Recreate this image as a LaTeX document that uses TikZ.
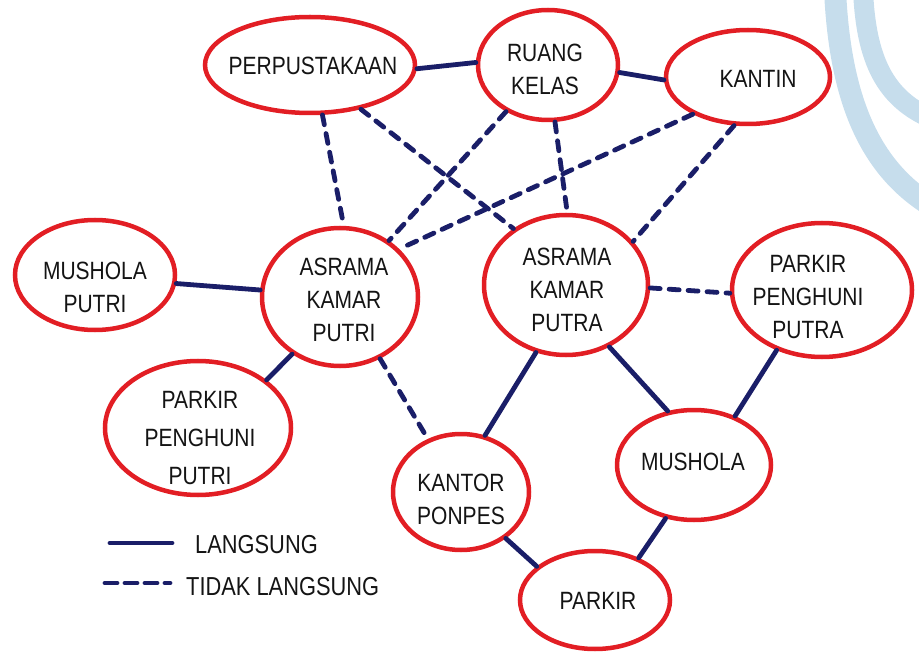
\documentclass[tikz,border=0pt]{standalone}
\usepackage{fontspec}
\setmainfont[FakeStretch=0.84]{Liberation Sans}
\usetikzlibrary{shapes.geometric}
\definecolor{bubred}{RGB}{226,30,36}
\definecolor{navy}{RGB}{26,30,104}
\definecolor{deco}{RGB}{198,221,236}
\definecolor{ink}{RGB}{20,20,20}
\begin{document}
\begin{tikzpicture}[x=1pt,y=-1pt,
  bub/.style={ellipse,draw=bubred,line width=4.5pt,fill=white,inner sep=0pt},
  lbl/.style={text=ink,font=\fontsize{25}{33}\selectfont,align=center,inner sep=0pt},
  link/.style={draw=navy,line width=4.8pt,line cap=round},
  dlink/.style={link,dash pattern=on 10pt off 9pt}]
\useasboundingbox (0,0) rectangle (919,655);
% background decoration
\draw[deco,line width=22pt] (835,-10) .. controls (840,100) and (870,170) .. (935,208);
\draw[deco,line width=20pt] (863,-10) .. controls (866,60) and (885,100) .. (935,120);
% bubbles
\node[bub,minimum width=210pt,minimum height=96pt] (perp) at (310,65) {};
\node[bub,minimum width=140pt,minimum height=110pt] (rk) at (548,65) {};
\node[bub,minimum width=164pt,minimum height=94pt] (kantin) at (748,77) {};
\node[bub,minimum width=160pt,minimum height=110pt] (mp) at (95,275) {};
\node[bub,minimum width=156pt,minimum height=138pt] (ap) at (340,297) {};
\node[bub,minimum width=164pt,minimum height=140pt] (apa) at (566,285) {};
\node[bub,minimum width=180pt,minimum height=134pt] (pppa) at (822,290) {};
\node[bub,minimum width=186pt,minimum height=134pt] (pppi) at (198,428) {};
\node[bub,minimum width=136pt,minimum height=116pt] (kp) at (461,492) {};
\node[bub,minimum width=154pt,minimum height=110pt] (mus) at (694,465) {};
\node[bub,minimum width=150pt,minimum height=98pt] (parkir) at (595,600) {};
% texts
\node[lbl] (tperp) at (313,66) {PERPUSTAKAAN};
\node[lbl] (trk) at (545,69) {RUANG\\KELAS};
\node[lbl] (tkantin) at (758,79) {KANTIN};
\node[lbl] (tmp) at (95,287) {MUSHOLA\\PUTRI};
\node[lbl] (tap) at (344,300) {ASRAMA\\KAMAR\\PUTRI};
\node[lbl] (tapa) at (567,290) {ASRAMA\\KAMAR\\PUTRA};
\node[lbl] (tpppa) at (808,297) {PARKIR\\PENGHUNI\\PUTRA};
\node[lbl,font=\fontsize{25}{38}\selectfont] (tpppi) at (200,438) {PARKIR\\PENGHUNI\\PUTRI};
\node[lbl] (tkp) at (461,499) {KANTOR\\PONPES};
\node[lbl] (tmus) at (693,462) {MUSHOLA};
\node[lbl] (tparkir) at (598,601) {PARKIR};
% solid connectors
\draw[link] (perp.-2) -- (rk.178);
\draw[link] (rk.-6) -- (kantin.182);
\draw[link] (mp.-6) -- (ap.175);
\draw[link] (ap.-130) -- (pppi.35);
\draw[link] (apa.-114) -- (kp.67);
\draw[link] (apa.-55) -- (mus.116);
\draw[link] (pppa.-127) -- (mus.50);
\draw[link] (kp.-46) -- (parkir.150);
\draw[link] (mus.-118) -- (parkir.44);
% dashed connectors
\draw[dlink] (perp.-76) -- (ap.87);
\draw[dlink] (perp.-41) -- (apa.133);
\draw[dlink] (rk.-132) -- (ap.49);
\draw[dlink] (rk.-83) -- (apa.89);
\draw[dlink] (kantin.-146) -- (ap.39);
\draw[dlink] (kantin.-106) -- (apa.33);
\draw[dlink] (apa.-2) -- (pppa.182);
\draw[dlink] (ap.-57) -- (kp.122);
% legend
\coordinate (l1a) at (110,543);
\coordinate (l1b) at (172,543);
\coordinate (l2a) at (105,583);
\coordinate (l2b) at (170,583);
\draw[link] (l1a) -- (l1b);
\draw[link,dash pattern=on 12pt off 8pt] (l2a) -- (l2b);
\node[lbl,anchor=west,font=\fontsize{26}{30}\selectfont] (tl1) at (195,545) {LANGSUNG};
\node[lbl,anchor=west,font=\fontsize{26}{30}\selectfont] (tl2) at (186,587) {TIDAK LANGSUNG};
\end{tikzpicture}
\end{document}
